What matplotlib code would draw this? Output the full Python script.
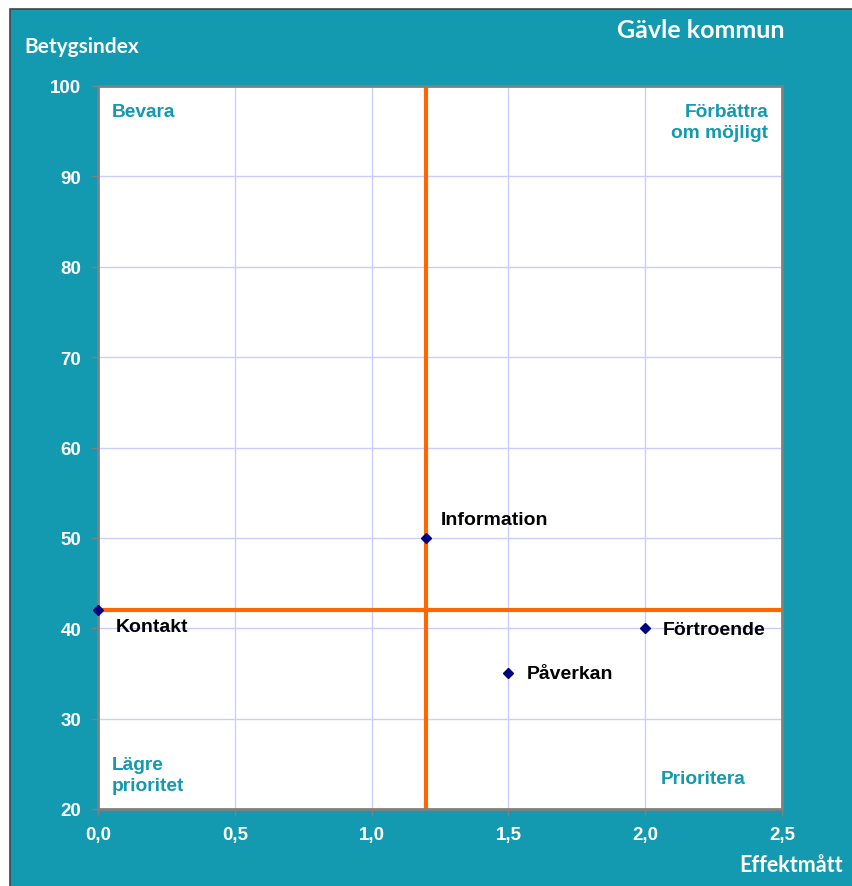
import matplotlib
matplotlib.use("Agg")
import matplotlib.pyplot as plt
from matplotlib.patches import Rectangle

# data
namn = ["Kontakt", "Information", "Påverkan", "Förtroende"]
effektmatt = [0.0, 1.2, 1.5, 2.0]
betygsindex = [42, 50, 35, 40]
grans_x = 1.2
grans_y = 42
x_ticks = [0.0, 0.5, 1.0, 1.5, 2.0, 2.5]
y_ticks = [20, 30, 40, 50, 60, 70, 80, 90, 100]

TEAL = "#1399b0"
ORANGE = "#ff6600"
W, H = 852, 887

fig = plt.figure(figsize=(W / 100, H / 100), dpi=100)
fig.patch.set_facecolor("white")
# teal background with dark border at top/left
fig.patches.append(Rectangle((10 / W, -0.05), 1.1, 1.05 - 10 / H, transform=fig.transFigure,
                             facecolor=TEAL, edgecolor="#444444", linewidth=1.2, zorder=-1))

ax = fig.add_axes([98 / W, 1 - 810 / H, (782 - 98) / W, (810 - 87) / H])
ax.set_facecolor("white")
ax.set_xlim(0, 2.5)
ax.set_ylim(20, 100)
ax.set_xticks(x_ticks)
ax.set_yticks(y_ticks)
ax.set_xticklabels([("%.1f" % v).replace(".", ",") for v in x_ticks])
ax.set_yticklabels([str(v) for v in y_ticks])
ax.grid(True, color="#ccccff", linewidth=1)
ax.set_axisbelow(True)
for s in ax.spines.values():
    s.set_color("#808080")
    s.set_linewidth(2)
ax.tick_params(length=5, color="#808080", width=1, labelcolor="white", pad=7)
for lab in ax.get_xticklabels() + ax.get_yticklabels():
    lab.set_family("Liberation Sans")
    lab.set_fontweight("bold")
    lab.set_fontsize(13.5)

ax.axvline(grans_x, color=ORANGE, linewidth=3, zorder=2)
ax.axhline(grans_y, color=ORANGE, linewidth=3, zorder=2)

ax.plot(effektmatt, betygsindex, "D", color="#000080", markersize=5.5, zorder=4, clip_on=False)

offsets = {"Kontakt": (18, -16), "Information": (14, 18), "Påverkan": (18, 0), "Förtroende": (18, -1)}
for n, x, y in zip(namn, effektmatt, betygsindex):
    dx, dy = offsets[n]
    ax.annotate(n, (x, y), xytext=(dx, dy), textcoords="offset pixels", ha="left", va="center",
                fontsize=14, fontweight="bold", family="Liberation Sans", color="black", zorder=5)

qfont = dict(fontsize=13.8, fontweight="bold", family="Liberation Sans", color=TEAL)
ax.text(0.02, 0.976, "Bevara", transform=ax.transAxes, ha="left", va="top", **qfont)
ax.text(0.98, 0.976, "Förbättra\nom möjligt", transform=ax.transAxes, ha="right", va="top",
        multialignment="right", linespacing=1.3, **qfont)
ax.text(0.02, 0.021, "Lägre\nprioritet", transform=ax.transAxes, ha="left", va="bottom",
        linespacing=1.3, **qfont)
ax.text(0.947, 0.03, "Prioritera", transform=ax.transAxes, ha="right", va="bottom", **qfont)

tfont = dict(fontweight="bold", family="Lato", color="white")
fig.text(24 / W, 1 - 47 / H, "Betygsindex", ha="left", va="center", fontsize=15, **tfont)
fig.text(701 / W, 1 - 31 / H, "Gävle kommun", ha="center", va="center", fontsize=18, **tfont)
fig.text(843 / W, 1 - 866 / H, "Effektmått", ha="right", va="center", fontsize=15.5, **tfont)

fig.savefig("out.png", dpi=100)
